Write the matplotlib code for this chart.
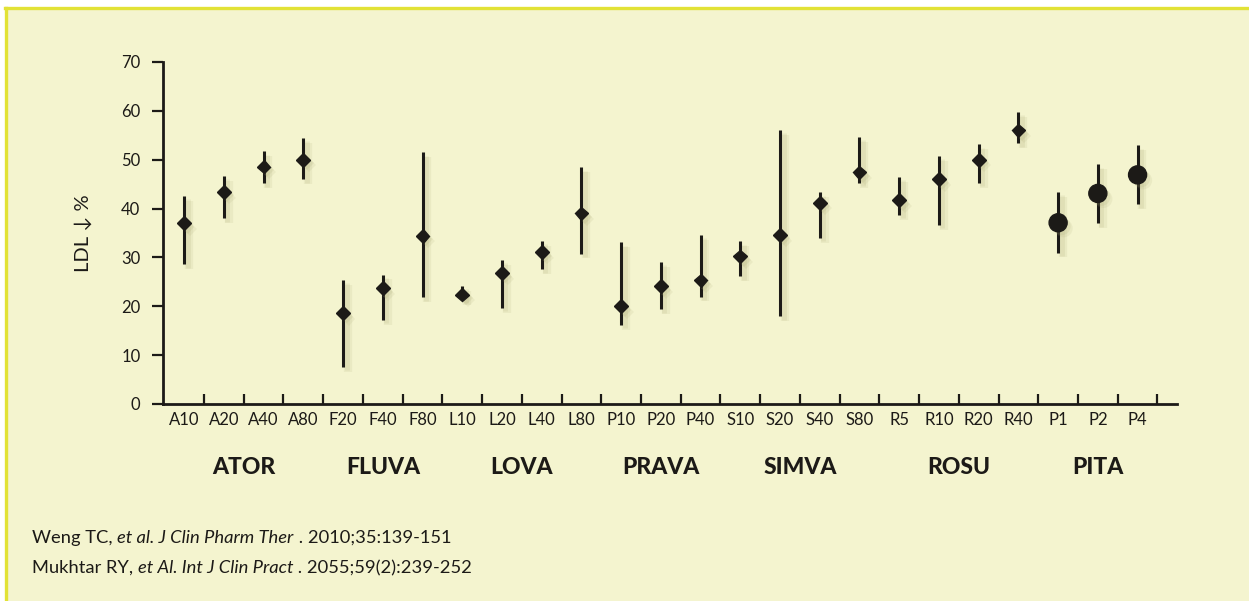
import matplotlib
matplotlib.use("Agg")
import matplotlib.pyplot as plt
import matplotlib.patheffects as pe
from matplotlib.transforms import blended_transform_factory
from matplotlib.patches import Rectangle
from matplotlib.lines import Line2D

# ---- data ----
categories = ["A10", "A20", "A40", "A80", "F20", "F40", "F80", "L10", "L20", "L40", "L80",
              "P10", "P20", "P40", "S10", "S20", "S40", "S80", "R5", "R10", "R20", "R40",
              "P1", "P2", "P4"]
ldl_mean = [37.0, 43.4, 48.6, 50.0, 18.6, 23.7, 34.4, 22.4, 26.8, 31.1, 39.0,
            20.0, 24.1, 25.3, 30.2, 34.6, 41.2, 47.4, 41.7, 46.0, 50.0, 56.0,
            37.1, 43.1, 46.9]
ldl_low = [28.6, 38.0, 45.2, 46.0, 7.6, 17.2, 21.8, 21.3, 19.7, 27.6, 30.8,
           16.2, 19.4, 22.0, 26.1, 18.0, 34.0, 45.3, 38.7, 36.7, 45.3, 53.4,
           31.0, 37.0, 40.9]
ldl_high = [42.6, 46.7, 51.7, 54.5, 25.4, 26.5, 51.5, 24.2, 29.5, 33.4, 48.5,
            33.1, 29.1, 34.6, 33.3, 56.1, 43.3, 54.7, 46.5, 50.8, 53.2, 59.8,
            43.4, 49.1, 53.0]
groups = ["ATOR", "FLUVA", "LOVA", "PRAVA", "SIMVA", "ROSU", "PITA"]
group_sizes = [4, 3, 4, 3, 4, 4, 3]
circle_group = "PITA"

# ---- style ----
W, H = 1249, 601
BG = "#F4F4CF"
BORDER = "#E2E236"
INK = "#1C1A17"
SHADOW = "#A8A672"
FONT = ["Lato", "DejaVu Sans"]
plt.rcParams["font.family"] = FONT

fig = plt.figure(figsize=(W / 100, H / 100), dpi=100, facecolor="white")

# cream panel with yellow top / left border
fig.patches.append(Rectangle((5 / W, 0), 1 - 5 / W, (H - 7) / H, transform=fig.transFigure,
                             facecolor=BG, edgecolor="none", zorder=-10))
fig.lines.append(Line2D([6 / W, 6 / W], [0, (H - 8) / H], transform=fig.transFigure,
                        color=BORDER, lw=2.4, zorder=-5))
fig.lines.append(Line2D([5 / W, 1], [(H - 8) / H, (H - 8) / H], transform=fig.transFigure,
                        color=BORDER, lw=2.4, zorder=-5))

x0, x1 = 162.7, 1177.3
y0, y1 = 404, 62
ax = fig.add_axes([x0 / W, (H - y0) / H, (x1 - x0) / W, (y0 - y1) / H])
ax.set_facecolor("none")
ax.set_zorder(1)

xs = list(range(len(categories)))
ax.set_xlim(-0.54, 25.0)
ax.set_ylim(0, 70)

# group membership for marker shapes
member = []
for g, n in zip(groups, group_sizes):
    member += [g] * n

line_shadow = [pe.SimpleLineShadow(offset=(3.5, -3.5), shadow_color=SHADOW, alpha=0.12, linewidth=6),
               pe.SimpleLineShadow(offset=(2.5, -2.5), shadow_color=SHADOW, alpha=0.15, linewidth=3.5),
               pe.Normal()]
mark_shadow = [pe.SimplePatchShadow(offset=(4, -4), shadow_rgbFace=SHADOW, alpha=0.12),
               pe.SimplePatchShadow(offset=(2.5, -2.5), shadow_rgbFace=SHADOW, alpha=0.15),
               pe.Normal()]

ax.vlines(xs, ldl_low, ldl_high, colors=INK, linewidth=2.2, zorder=3,
          path_effects=line_shadow)

dx = [x for x, m in zip(xs, member) if m != circle_group]
dy = [v for v, m in zip(ldl_mean, member) if m != circle_group]
cx = [x for x, m in zip(xs, member) if m == circle_group]
cy = [v for v, m in zip(ldl_mean, member) if m == circle_group]
ax.plot(dx, dy, linestyle="none", marker="D", markersize=7, color=INK, zorder=4,
        path_effects=mark_shadow)
ax.plot(cx, cy, linestyle="none", marker="o", markersize=13, color=INK, zorder=4,
        path_effects=mark_shadow)

# spines
for s in ("top", "right"):
    ax.spines[s].set_visible(False)
for s in ("left", "bottom"):
    ax.spines[s].set_linewidth(2.0)
    ax.spines[s].set_color(INK)

ax.set_yticks(range(0, 71, 10))
ax.tick_params(axis="y", direction="out", length=8, width=1.6, color=INK,
               labelsize=12, labelcolor=INK, pad=8)
ax.set_xticks(xs)
ax.set_xticklabels(categories)
ax.tick_params(axis="x", which="major", length=0, labelsize=12, labelcolor=INK, pad=6)
ax.set_xticks([x + 0.5 for x in xs], minor=True)
ax.tick_params(axis="x", which="minor", direction="in", length=7, width=1.6, color=INK)

ax.set_ylabel("LDL ↓ %", fontsize=14.5, color=INK)
ax.yaxis.set_label_coords((92 - x0) / (x1 - x0), 0.5)

# group labels
tr = blended_transform_factory(ax.transData, fig.transFigure)
start = 0
for g, n in zip(groups, group_sizes):
    center = (xs[start] + xs[start + n - 1]) / 2
    ax.text(center, (H - 468) / H, g, transform=tr, ha="center", va="center",
            fontsize=16.5, fontweight="black", color=INK)
    start += n

# references with mixed italics
refs = [[("Weng TC, ", "normal"), ("et al. J Clin Pharm Ther", "italic"), (" . 2010;35:139-151", "normal")],
        [("Mukhtar RY, ", "normal"), ("et Al. Int J Clin Pract", "italic"), (" . 2055;59(2):239-252", "normal")]]
ref_y = [538, 568]
renderer = fig.canvas.get_renderer()
for pieces, yy in zip(refs, ref_y):
    xpix = 32
    for txt, style in pieces:
        t = fig.text(xpix / W, (H - yy) / H, txt, fontsize=13.2, style=style, color=INK,
                     ha="left", va="center")
        bb = t.get_window_extent(renderer=renderer)
        xpix = bb.x1

fig.savefig("out.png", dpi=100, facecolor="white")
